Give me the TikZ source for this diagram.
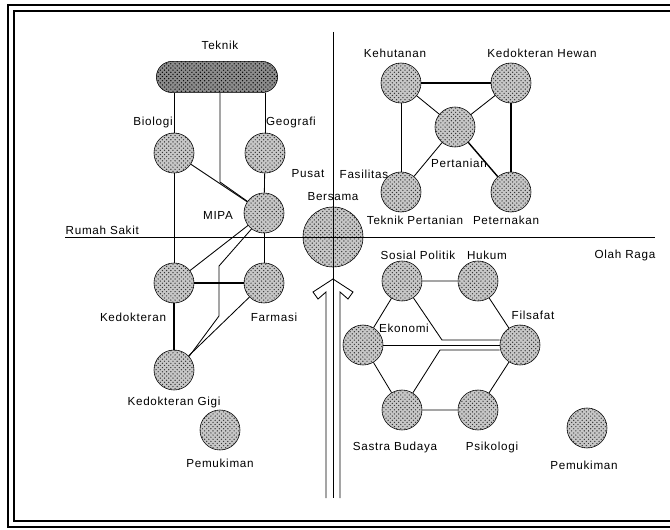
\documentclass[tikz,border=0pt]{standalone}
\usepackage{fontspec}
\setmainfont{Liberation Sans}
\newfontfamily\lblfont[LetterSpace=6]{Liberation Sans}
\usetikzlibrary{positioning,shapes.misc,patterns}
\tikzset{unit/.style={circle,draw,thin,minimum size=1cm,inner sep=0pt,preaction={fill=black!22},pattern=crosshatch dots,pattern color=black!80}}
\tikzset{pill/.style={rounded rectangle,draw,thin,minimum width=3.03cm,minimum height=0.78cm,inner sep=0pt,preaction={fill=black!45},pattern=crosshatch dots,pattern color=black}}
\tikzset{lbl/.style={font=\lblfont\fontsize{8.3}{10}\selectfont,inner sep=1pt}}
\tikzset{link/.style={line width=0.6pt}}
\tikzset{strong/.style={line width=1.6pt}}

\begin{document}
\begin{tikzpicture}[x=0.025cm,y=-0.025cm]
	\useasboundingbox (0,0) rectangle (670,530);
	%% frame
	\draw[line width=2pt] (670,5) -- (8,5) -- (8,527) -- (670,527);
	\draw[line width=0.8pt] (670,11) -- (14,11) -- (14,521) -- (670,521);
	%%
	\node[pill] (teknik) at (217,77) {};
	\node[unit] (biologi) at (174,153) {};
	\node[unit] (geografi) at (265,153) {};
	\node[unit] (mipa) at (264,213) {};
	\node[unit] (kedokteran) at (174,283) {};
	\node[unit] (farmasi) at (264,283) {};
	\node[unit] (kgigi) at (174,370) {};
	\node[unit] (pemukiman1) at (220,430) {};
	\node[unit,minimum size=1.5cm] (bersama) at (333,237) {};
	\node[unit] (kehutanan) at (401,83) {};
	\node[unit] (khewan) at (511,83) {};
	\node[unit] (pertanian) at (455,127) {};
	\node[unit] (tpertanian) at (401,192) {};
	\node[unit] (peternakan) at (511,192) {};
	\node[unit] (sospol) at (402,281) {};
	\node[unit] (hukum) at (478,281) {};
	\node[unit] (ekonomi) at (363,345) {};
	\node[unit] (filsafat) at (520,345) {};
	\node[unit] (sbudaya) at (402,410) {};
	\node[unit] (psikologi) at (478,410) {};
	\node[unit] (pemukiman2) at (587,428) {};
	%% labels
	\node[lbl] (lteknik) at (220,45) {Teknik};
	\node[lbl] (lbiologi) at (153,122) {Biologi};
	\node[lbl] (lgeografi) at (291,122) {Geografi};
	\node[lbl] (lmipa) at (218,215) {MIPA};
	\node[lbl,anchor=west] (lrumah) at (64,230) {Rumah Sakit};
	\node[lbl] (lkedokteran) at (133,317) {Kedokteran};
	\node[lbl] (lfarmasi) at (274,317) {Farmasi};
	\node[lbl] (lkgigi) at (174,402) {Kedokteran Gigi};
	\node[lbl] (lpemukiman1) at (220,463) {Pemukiman};
	\node[lbl,anchor=east] (lpusat) at (326,174) {Pusat};
	\node[lbl,anchor=west] (lfasilitas) at (338,174) {Fasilitas};
	\node[lbl] (lbersama) at (333,197) {Bersama};
	\node[lbl] (lkehutanan) at (395,53) {Kehutanan};
	\node[lbl] (lkhewan) at (542,53) {Kedokteran Hewan};
	\node[lbl] (lpertanian) at (459,163) {Pertanian};
	\node[lbl] (ltpertanian) at (415,220) {Teknik Pertanian};
	\node[lbl] (lpeternakan) at (506,220) {Peternakan};
	\node[lbl] (lsospol) at (418,255) {Sosial Politik};
	\node[lbl] (lhukum) at (487,255) {Hukum};
	\node[lbl] (lolahraga) at (625,255) {Olah Raga};
	\node[lbl] (lfilsafat) at (533,315) {Filsafat};
	\node[lbl] (lekonomi) at (404,328) {Ekonomi};
	\node[lbl] (lsbudaya) at (395,447) {Sastra Budaya};
	\node[lbl] (lpsikologi) at (492,447) {Psikologi};
	\node[lbl] (lpemukiman2) at (584,465) {Pemukiman};
	%% axes
	\coordinate (axtop) at (333,32);
	\coordinate (axbot) at (333,498);
	\coordinate (axleft) at (65,237);
	\coordinate (axright) at (655,237);
	\draw[link] (axtop) -- (axbot);
	\draw[link] (axleft) -- (axright);
	%% arrow
	\draw[link] (326,498) -- (326,292) -- (318,299) -- (313,292) -- (333,279)
		-- (353,292) -- (348,299) -- (340,292) -- (340,498);
	%% links, upper left
	\coordinate (tbend) at (220,182);
	\coordinate (mbend1) at (219,266);
	\coordinate (mbend2) at (219,316);
	\draw[link] (biologi |- teknik.south) -- (biologi);
	\draw[link] (geografi |- teknik.south) -- (geografi);
	\draw[link] (tbend |- teknik.south) -- (tbend) -- (mipa);
	\draw[link] (biologi) -- (mipa);
	\draw[link] (geografi) -- (mipa);
	\draw[link] (biologi) -- (kedokteran);
	\draw[link] (mipa) -- (farmasi);
	\draw[link] (mipa) -- (kedokteran);
	\draw[link] (mipa.-128) -- (mbend1) -- (mbend2) -- (kgigi.42);
	\draw[strong] (kedokteran) -- (farmasi);
	\draw[strong] (kedokteran) -- (kgigi);
	\draw[link] (farmasi) -- (kgigi);
	%% upper right
	\draw[strong] (kehutanan) -- (khewan);
	\draw[link] (kehutanan) -- (tpertanian);
	\draw[line width=1pt] (khewan) -- (peternakan);
	\draw[link] (kehutanan) -- (pertanian);
	\draw[link] (khewan) -- (pertanian);
	\draw[link] (tpertanian) -- (pertanian);
	\draw[line width=1pt] (peternakan) -- (pertanian);
	%% lower right
	\coordinate (sbend) at (442,340);
	\coordinate (bbend) at (440,350);
	\draw[link] (sospol) -- (hukum) -- (filsafat) -- (psikologi) -- (sbudaya) -- (ekonomi) -- (sospol);
	\draw[link] (sospol) -- (sbend) -- (sbend -| filsafat.west);
	\draw[link] (ekonomi) -- (filsafat);
	\draw[link] (sbudaya) -- (bbend) -- (bbend -| filsafat.west);
\end{tikzpicture}
\end{document}
